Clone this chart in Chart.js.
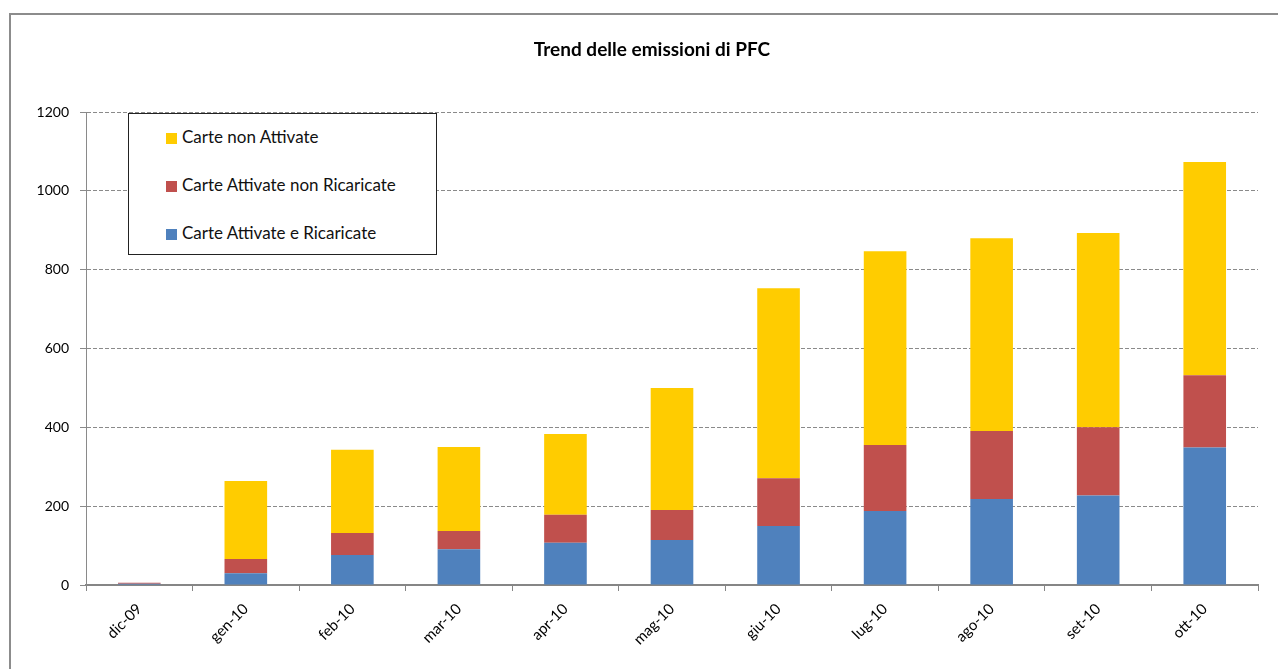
<!DOCTYPE html>
<html>
<head>
<meta charset="utf-8">
<script src="https://cdn.jsdelivr.net/npm/chart.js@4/dist/chart.umd.min.js"></script>
<style>
  body { margin: 0; background: #fff; }
  #wrap { position: relative; width: 1278px; height: 669px; overflow: hidden; }
  #frame { position: absolute; left: 9px; top: 13px; width: 1300px; height: 700px; border: 2px solid #8c8c8c; box-sizing: border-box; }
  #myChart { position: absolute; left: 0; top: 0; }
  #legend { position: absolute; left: 128px; top: 113px; width: 309px; height: 142px; border: 1.5px solid #222; box-sizing: border-box; background: #fff; font-family: Lato, "Noto Sans", sans-serif; font-size: 17px; color: #111; }
  .item { position: absolute; left: 37px; height: 20px; line-height: 20px; white-space: nowrap; }
  .item span.box { display: inline-block; width: 11px; height: 11px; margin-right: 5px; vertical-align: -1px; }
</style>
</head>
<body>
<div id="wrap">
  <div id="frame"></div>
  <canvas id="myChart" width="1278" height="669"></canvas>
  <div id="legend"></div>
</div>
<script>
// Chart JS
const months = ['dic-09', 'gen-10', 'feb-10', 'mar-10', 'apr-10', 'mag-10', 'giu-10', 'lug-10', 'ago-10', 'set-10', 'ott-10'];
const attivateRicaricate = [3, 30, 76, 91, 107, 114, 150, 188, 218, 227, 349];
const attivateNonRicaricate = [3, 36, 56, 46, 71, 76, 121, 167, 173, 173, 183];
const nonAttivate = [0, 198, 211, 213, 205, 310, 482, 492, 489, 493, 541];
const yTicks = [0, 200, 400, 600, 800, 1000, 1200];
const titleText = 'Trend delle emissioni di PFC';

const ctx = document.getElementById('myChart');
const fontFam = 'Lato, "Noto Sans", sans-serif';

// title is centred over the whole frame, not the plot, so draw it by hand
const titlePlugin = {
  id: 'frameTitle',
  afterDraw(chart) {
    const c = chart.ctx;
    c.save();
    c.font = 'bold 19px ' + fontFam;
    c.fillStyle = '#000';
    c.textAlign = 'center';
    c.textBaseline = 'middle';
    c.fillText(titleText, 652, 50);
    c.restore();
  }
};

let myChart = new Chart(ctx, {
  type: 'bar',
  data: {
    labels: months,
    datasets: [
      { label: 'Carte Attivate e Ricaricate', data: attivateRicaricate, backgroundColor: '#4F81BD' },
      { label: 'Carte Attivate non Ricaricate', data: attivateNonRicaricate, backgroundColor: '#C0504D' },
      { label: 'Carte non Attivate', data: nonAttivate, backgroundColor: '#FFCC00' }
    ]
  },
  plugins: [titlePlugin],
  options: {
    responsive: false,
    animation: false,
    layout: { padding: { left: 0, right: 20, top: 112, bottom: 0 } },
    datasets: { bar: { barPercentage: 0.8, categoryPercentage: 0.5, borderWidth: 0 } },
    plugins: {
      legend: { display: false },
      tooltip: { enabled: false },
      title: { display: false }
    },
    scales: {
      x: {
        stacked: true,
        grid: { display: true, drawOnChartArea: false, offset: true, tickLength: 6, color: '#868686', lineWidth: 1 },
        border: { display: true, color: '#868686', width: 2 },
        ticks: { color: '#000', font: { family: fontFam, size: 15 }, minRotation: 45, maxRotation: 45, padding: 9 },
        afterFit: (s) => { s.height = 84; }
      },
      y: {
        stacked: true,
        min: 0,
        max: 1200,
        afterBuildTicks: (s) => { s.ticks = yTicks.map(v => ({ value: v })); },
        grid: { color: '#8a8a8a', lineWidth: 1, drawTicks: true, tickLength: 6 },
        border: { display: true, color: '#8a8a8a', width: 1, dash: [4, 2] },
        ticks: { color: '#000', font: { family: fontFam, size: 14 }, padding: 11, callback: (v) => String(v) },
        afterFit: (s) => { s.width = 86; }
      }
    }
  }
});

// legend built from the datasets, reversed like the picture
const legendEl = document.getElementById('legend');
const tops = [13, 61, 109];
myChart.data.datasets.slice().reverse().forEach((ds, i) => {
  const d = document.createElement('div');
  d.className = 'item';
  d.style.top = tops[i] + 'px';
  d.innerHTML = '<span class="box" style="background:' + ds.backgroundColor + '"></span>' + ds.label;
  legendEl.appendChild(d);
});
</script>
</body>
</html>
